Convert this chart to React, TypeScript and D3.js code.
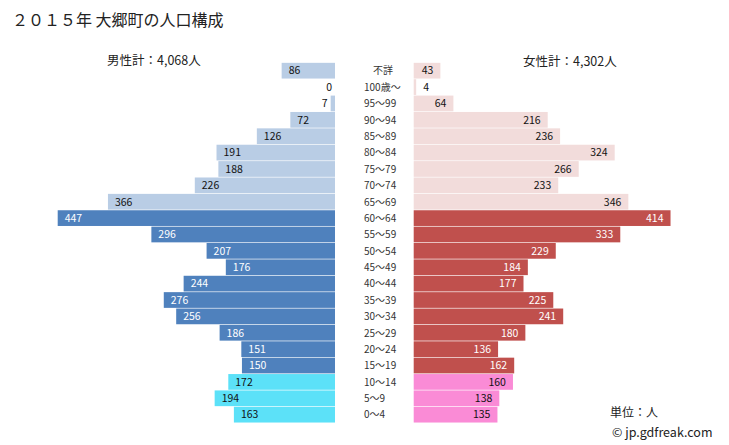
import React from "react";
import * as d3 from "d3";

const categories = ["不詳","100歳～","95～99","90～94","85～89","80～84","75～79","70～74","65～69","60～64","55～59","50～54","45～49","40～44","35～39","30～34","25～29","20～24","15～19","10～14","5～9","0～4"];
const male = [86,0,7,72,126,191,188,226,366,447,296,207,176,244,276,256,186,151,150,172,194,163];
const female = [43,4,64,216,236,324,266,233,346,414,333,229,184,177,225,241,180,136,162,160,138,135];
const title = "２０１５年 大郷町の人口構成";
const maleTotal = "男性計：4,068人";
const femaleTotal = "女性計：4,302人";

const W = 729, H = 445;
const FONT = "'Noto Sans CJK JP', 'Noto Sans', sans-serif";

function group(i: number) {
  if (i <= 8) return 0; // 65+ and unknown
  if (i >= 19) return 2; // 0-14
  return 1;
}
const maleColors = ["#b9cde5", "#4f81bd", "#5ce1f8"];
const femaleColors = ["#f2dcdb", "#c0504d", "#fa8bd6"];
const textColors = ["#111", "#fff", "#111"];

export default function App() {
  const y = d3.scaleBand<string>().domain(categories).range([62.5, 62.5 + 16.38 * categories.length]).paddingInner(0.04).paddingOuter(0.02);
  const xm = d3.scaleLinear().domain([0, 447]).range([0, 277.3]);
  const maleRight = 335;
  const femaleLeft = 413.7;
  const bh = y.bandwidth();
  return (
    <svg width={W} height={H} style={{ position: "absolute", left: 0, top: 0, background: "#fff" }} fontFamily={FONT}>
      <text x={12} y={26} fontSize={16} fill="#222">{title}</text>
      <text x={107} y={65} fontSize={12.5} fill="#222">{maleTotal}</text>
      <text x={523} y={66} fontSize={12.5} fill="#222">{femaleTotal}</text>
      {categories.map((c, i) => {
        const yy = y(c)!;
        const g = group(i);
        const mw = xm(male[i]);
        const fw = xm(female[i]);
        const cy = yy + bh / 2 + 3.8;
        const mInside = mw > 22;
        const fInside = fw > 22;
        return (
          <g key={c}>
            <rect x={maleRight - mw} y={yy} width={mw} height={bh} fill={maleColors[g]} />
            <rect x={femaleLeft} y={yy} width={fw} height={bh} fill={femaleColors[g]} />
            {mInside ? (
              <text x={maleRight - mw + 7} y={cy} fontSize={10.5} fill={textColors[g]}>{male[i]}</text>
            ) : (
              <text x={maleRight - mw - 3} y={cy} fontSize={10.5} fill="#111" textAnchor="end">{male[i]}</text>
            )}
            {fInside ? (
              <text x={femaleLeft + fw - 7} y={cy} fontSize={10.5} fill={textColors[g]} textAnchor="end">{female[i]}</text>
            ) : (
              <text x={femaleLeft + fw + 7} y={cy} fontSize={10.5} fill="#111">{female[i]}</text>
            )}
            <text x={c === "不詳" ? 373 : 364} y={cy} fontSize={10} fill="#333">{c}</text>
          </g>
        );
      })}
      <text x={610} y={417} fontSize={12} fill="#222">単位：人</text>
      <text x={612} y={437} fontSize={12.5} fill="#222">© jp.gdfreak.com</text>
    </svg>
  );
}
